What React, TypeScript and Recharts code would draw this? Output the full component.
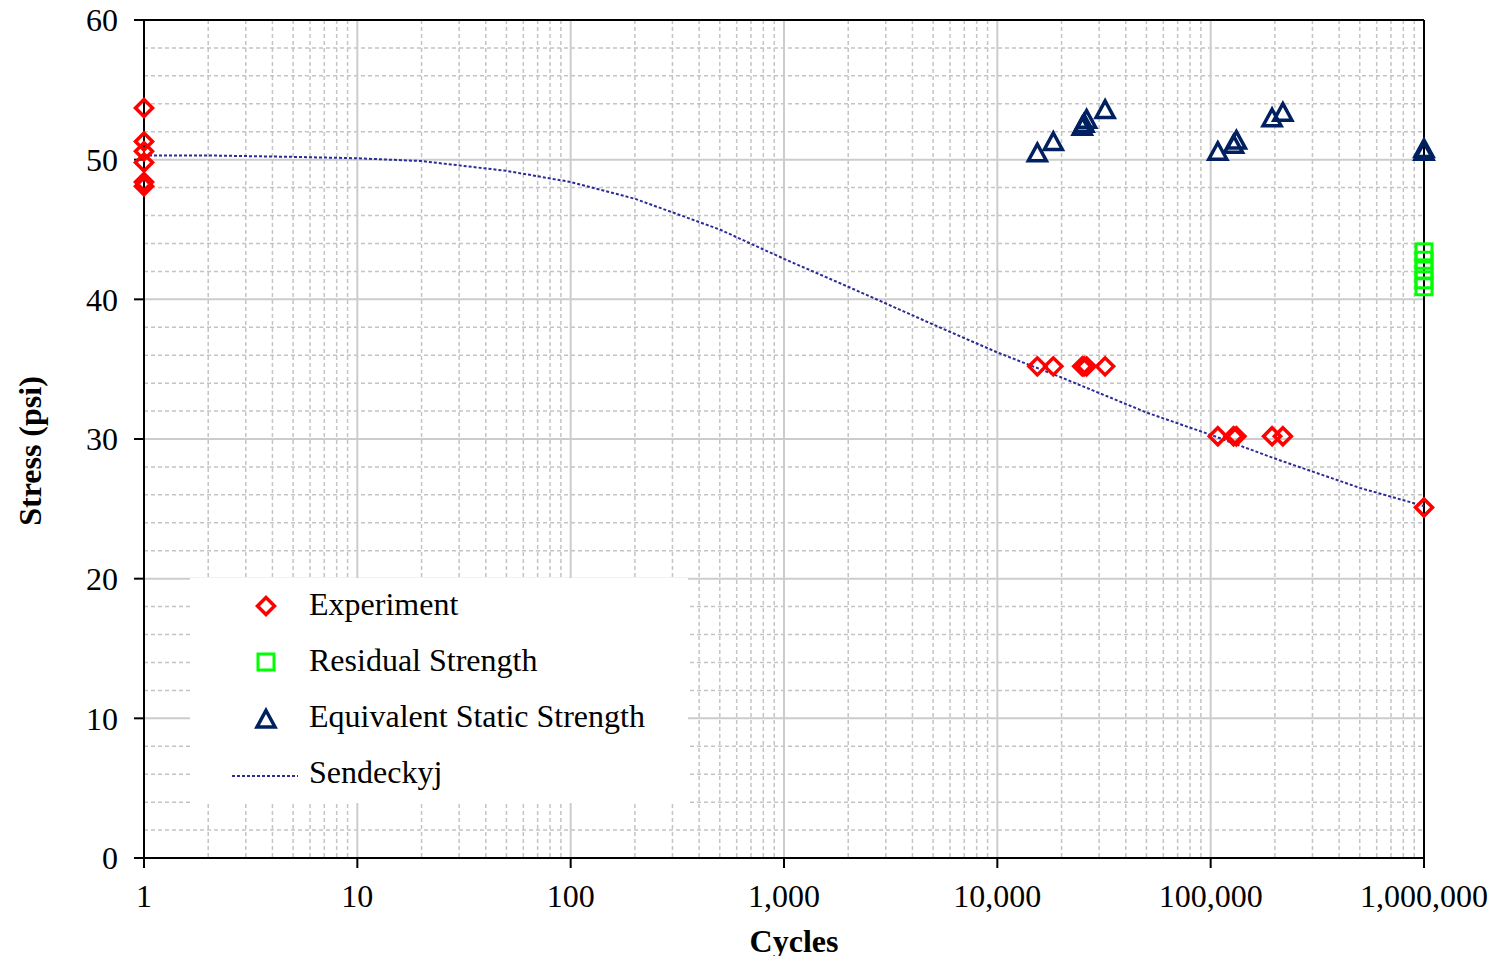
import {
  ComposedChart,
  Scatter,
  Line,
  XAxis,
  YAxis,
  CartesianGrid,
  ReferenceLine,
  Legend,
  Label,
} from 'recharts'

const FONT = 'Liberation Serif, Times New Roman, serif'

// Experiment (cycles, stress)
const EXP_CYCLES = [1, 1, 1, 1, 1, 1, 15400, 18300, 25000, 25500, 26200, 32000, 108000, 128000, 132000, 194000, 218000, 1000000]
const EXP_STRESS = [53.7, 51.3, 50.6, 49.8, 48.4, 48.1, 35.2, 35.2, 35.2, 35.2, 35.2, 35.2, 30.2, 30.2, 30.2, 30.2, 30.2, 25.1]

// Residual strength
const RES_CYCLES = [1000000, 1000000, 1000000, 1000000, 1000000]
const RES_STRESS = [43.4, 42.8, 42.1, 41.4, 40.9]

// Equivalent static strength
const EQ_CYCLES = [15400, 18300, 25000, 25500, 26200, 32000, 108000, 128000, 132000, 194000, 218000, 1000000, 1000000]
const EQ_STRESS = [50.5, 51.3, 52.4, 52.6, 52.9, 53.6, 50.6, 51.1, 51.4, 53.0, 53.4, 50.6, 50.8]

// Sendeckyj fit
const FIT_CYCLES = [1, 2, 5, 10, 20, 50, 100, 200, 500, 1000, 2000, 5000, 10000, 20000, 50000, 100000, 200000, 500000, 1000000]
const FIT_STRESS = [50.3, 50.3, 50.2, 50.1, 49.9, 49.2, 48.4, 47.2, 45.0, 42.9, 40.9, 38.2, 36.2, 34.4, 31.9, 30.3, 28.6, 26.5, 25.2]

const X_TICKS = [1, 10, 100, 1000, 10000, 100000, 1000000]
const Y_TICKS = [0, 10, 20, 30, 40, 50, 60]
const Y_MINOR = [2, 4, 6, 8, 12, 14, 16, 18, 22, 24, 26, 28, 32, 34, 36, 38, 42, 44, 46, 48, 52, 54, 56, 58]
const X_MINOR = X_TICKS.slice(0, -1).flatMap((d) => [2, 3, 4, 5, 6, 7, 8, 9].map((m) => m * d))

const zip = (xs: number[], ys: number[]) => xs.map((x, i) => ({ x, y: ys[i] }))

const expData = zip(EXP_CYCLES, EXP_STRESS)
const resData = zip(RES_CYCLES, RES_STRESS)
const eqData = zip(EQ_CYCLES, EQ_STRESS)
const fitData = zip(FIT_CYCLES, FIT_STRESS)

const RED = '#ff0000'
const GREEN = '#00ff00'
const NAVY = '#002060'
const FIT_BLUE = '#2b2b9a'

const Diamond = ({ cx, cy }: { cx: number; cy: number }) => (
  <path
    d={`M${cx},${cy - 8.5}L${cx + 8.5},${cy}L${cx},${cy + 8.5}L${cx - 8.5},${cy}Z`}
    fill="none"
    stroke={RED}
    strokeWidth={3.5}
  />
)

const Square = ({ cx, cy }: { cx: number; cy: number }) => (
  <rect x={cx - 8} y={cy - 8} width={16} height={16} fill="none" stroke={GREEN} strokeWidth={3} />
)

const Triangle = ({ cx, cy }: { cx: number; cy: number }) => (
  <path
    d={`M${cx},${cy - 8.5}L${cx + 9},${cy + 8}L${cx - 9},${cy + 8}Z`}
    fill="none"
    stroke={NAVY}
    strokeWidth={3.5}
  />
)

function LegendBox() {
  const rows = [
    { name: 'Experiment', icon: <Diamond cx={76} cy={28} />, base: 37 },
    { name: 'Residual Strength', icon: <Square cx={76} cy={84} />, base: 93 },
    { name: 'Equivalent Static Strength', icon: <Triangle cx={76} cy={141} />, base: 149 },
    {
      name: 'Sendeckyj',
      icon: <line x1={42} x2={108} y1={198} y2={198} stroke={FIT_BLUE} strokeWidth={2} strokeDasharray="3 2" />,
      base: 205,
    },
  ]
  return (
    <svg width={498} height={225} style={{ display: 'block', background: '#fff' }}>
      {rows.map((r) => (
        <g key={r.name}>
          {r.icon}
          <text x={119} y={r.base} fontFamily={FONT} fontSize={32} fill="#000">
            {r.name}
          </text>
        </g>
      ))}
    </svg>
  )
}

export default function App() {
  return (
    <div style={{ margin: -8 }}>
      <ComposedChart width={1499} height={964} margin={{ top: 20, right: 75, bottom: 6, left: 64 }}>
        <CartesianGrid
          verticalValues={X_MINOR}
          horizontalValues={Y_MINOR}
          stroke="#c4c4c4"
          strokeWidth={1.5}
          strokeDasharray="4 3"
        />
        <CartesianGrid verticalValues={X_TICKS} horizontalValues={Y_TICKS} stroke="#cccccc" strokeWidth={2} />
        <XAxis
          dataKey="x"
          type="number"
          scale="log"
          domain={[1, 1000000]}
          ticks={X_TICKS}
          interval={0}
          tickFormatter={(v: number) => v.toLocaleString('en-US')}
          tick={{ fontFamily: FONT, fontSize: 32, fill: '#000' }}
          tickSize={10}
          tickMargin={16}
          height={100}
          axisLine={{ stroke: '#000', strokeWidth: 2 }}
          tickLine={{ stroke: '#000', strokeWidth: 2 }}
        >
          <Label
            content={() => (
              <text x={794} y={952} textAnchor="middle" fontFamily={FONT} fontSize={32} fontWeight="bold" fill="#000">
                Cycles
              </text>
            )}
          />
        </XAxis>
        <YAxis
          type="number"
          domain={[0, 60]}
          ticks={Y_TICKS}
          interval={0}
          tick={{ fontFamily: FONT, fontSize: 32, fill: '#000' }}
          tickSize={10}
          tickMargin={16}
          width={80}
          axisLine={{ stroke: '#000', strokeWidth: 2 }}
          tickLine={{ stroke: '#000', strokeWidth: 2 }}
        >
          <Label
            content={() => (
              <text
                x={41}
                y={451}
                transform="rotate(-90, 41, 451)"
                textAnchor="middle"
                fontFamily={FONT}
                fontSize={32}
                fontWeight="bold"
                fill="#000"
              >
                Stress (psi)
              </text>
            )}
          />
        </YAxis>
        <ReferenceLine y={60} stroke="#000" strokeWidth={2} />
        <ReferenceLine x={1000000} stroke="#000" strokeWidth={2} />
        <Legend
          layout="vertical"
          align="center"
          verticalAlign="middle"
          content={() => <LegendBox />}
          wrapperStyle={{ left: 190, top: 578, width: 498, height: 225, background: '#fff' }}
        />
        <Line
          data={fitData}
          dataKey="y"
          type="linear"
          stroke={FIT_BLUE}
          strokeWidth={2}
          strokeDasharray="3 2"
          dot={false}
          activeDot={false}
          isAnimationActive={false}
        />
        <Scatter data={resData} dataKey="y" isAnimationActive={false} shape={(p: any) => <Square cx={p.cx} cy={p.cy} />} />
        <Scatter data={eqData} dataKey="y" isAnimationActive={false} shape={(p: any) => <Triangle cx={p.cx} cy={p.cy} />} />
        <Scatter data={expData} dataKey="y" isAnimationActive={false} shape={(p: any) => <Diamond cx={p.cx} cy={p.cy} />} />
      </ComposedChart>
    </div>
  )
}
